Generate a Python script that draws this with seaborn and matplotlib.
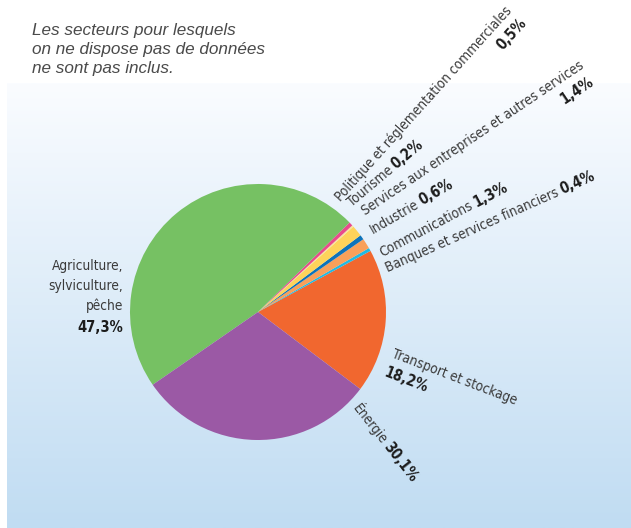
import numpy as np
import matplotlib
matplotlib.use("Agg")
import matplotlib.pyplot as plt
import seaborn as sns
from matplotlib import font_manager


# =========================
# DATA
# =========================

sectors = [
    "Transport et stockage",
    "Banques et services financiers",
    "Communications",
    "Industrie",
    "Services aux entreprises et autres services",
    "Tourisme",
    "Politique et réglementation commerciales",
    "Agriculture,\nsylviculture,\npêche",
    "Énergie",
]
shares = [18.2, 0.4, 1.3, 0.6, 1.4, 0.2, 0.5, 47.3, 30.1]
share_labels = ["18,2%", "0,4%", "1,3%", "0,6%", "1,4%", "0,2%", "0,5%", "47,3%", "30,1%"]
colors = ["#f1672f", "#1fbbe4", "#f8a05a", "#0c73bb", "#fed35a",
          "#fbe59a", "#e94b8c", "#76c163", "#9b59a5"]

note_text = "Les secteurs pour lesquels\non ne dispose pas de données\nne sont pas inclus."

# label layout (image pixels, angle, how the percentage is placed)
label_layout = [
    (391, 357, -21, "below_left"),
    (388, 272, 24, "inline"),
    (382, 257, 28, "inline"),
    (373, 234, 30, "inline"),
    (365, 216, 34, "below_right"),
    (352, 207, 40, "inline"),
    (341, 202, 48, "below_right"),
    (123, 270, 0, "stack"),
    (352, 408, -52, "inline"),
]


# =========================
# SETTINGS
# =========================

sns.set_theme(style="white")

W, H = 631, 528


def pick_narrow_font():
    for f in font_manager.fontManager.ttflist:
        narrow = ("Narrow" in f.name or "Condensed" in f.name
                  or f.stretch in ("condensed", "semi-condensed", 500, 400))
        if narrow and f.style == "normal" and f.stretch not in ("normal", 500):
            return f.name, f.stretch
    return None, None


name_c, stretch_c = pick_narrow_font()
if name_c:
    LABEL_FONT, LABEL_PT, STRETCH = name_c, 9.8, stretch_c
else:
    LABEL_FONT, LABEL_PT, STRETCH = "Liberation Sans", 9.2, "normal"

plt.rcParams["font.family"] = [LABEL_FONT, "DejaVu Sans"]

REG = dict(fontsize=LABEL_PT, color="#3a3a3a", family=LABEL_FONT, fontstretch=STRETCH)
BOLD = dict(fontsize=LABEL_PT + 0.7, color="#1c1c1c", family=LABEL_FONT, fontstretch=STRETCH,
            fontweight="bold")
LINE = 19
GAP = 3

fig = plt.figure(figsize=(W / 100, H / 100), dpi=100)
ax = fig.add_axes([0, 0, 1, 1])
renderer = fig.canvas.get_renderer()

# background: white at the top, light blue panel fading downwards
top = np.array([250, 252, 255]) / 255
bottom = np.array([192, 220, 242]) / 255
rows = np.linspace(83, H, 300)
frac = ((rows - 83) / (H - 83))[:, None]
grad = (top * (1 - frac) + bottom * frac)[:, None, :]
ax.imshow(grad, extent=(7, W, 0, H - 83), origin="upper", aspect="auto", zorder=0)

# pie
ax.pie(shares, colors=colors, startangle=-37, counterclock=True,
       center=(258, H - 312), radius=128,
       wedgeprops=dict(linewidth=0, antialiased=True))

ax.set_xlim(0, W)
ax.set_ylim(0, H)
ax.set_aspect("equal")
ax.axis("off")


def text_width(t):
    rot = t.get_rotation()
    t.set_rotation(0)
    w = t.get_window_extent(renderer).width
    t.set_rotation(rot)
    return w


def place_label(name, pct, x, y, angle, mode):
    base = np.array([x, H - y], dtype=float)
    a = np.deg2rad(angle)
    along = np.array([np.cos(a), np.sin(a)])
    down = np.array([np.sin(a), -np.cos(a)])
    kw = dict(rotation=angle, rotation_mode="anchor", va="baseline")

    if mode == "stack":
        lines = name.split("\n")
        for i, line in enumerate(lines):
            p = base + down * (LINE + 1) * i
            ax.text(p[0], p[1], line, ha="right", **kw, **REG)
        p = base + down * ((LINE + 1) * len(lines) + 2)
        ax.text(p[0], p[1], pct, ha="right", **kw, **BOLD)
        return

    t = ax.text(base[0], base[1], name, ha="left", **kw, **REG)
    w = text_width(t)
    if mode == "inline":
        p = base + along * (w + GAP)
        ax.text(p[0], p[1], pct, ha="left", **kw, **BOLD)
    elif mode == "below_right":
        p = base + along * w + down * LINE
        ax.text(p[0], p[1], pct, ha="right", **kw, **BOLD)
    else:
        p = base + down * (LINE + 2)
        ax.text(p[0], p[1], pct, ha="left", **kw, **BOLD)


for name, pct, (x, y, angle, mode) in zip(sectors, share_labels, label_layout):
    place_label(name, pct, x, y, angle, mode)

# note
ax.text(32, H - 73, note_text, ha="left", va="baseline", fontsize=12.3, color="#4a4a4a",
        family=["Liberation Sans", "DejaVu Sans"], style="italic", linespacing=1.33)

fig.savefig("out.png", dpi=100)
plt.close(fig)
